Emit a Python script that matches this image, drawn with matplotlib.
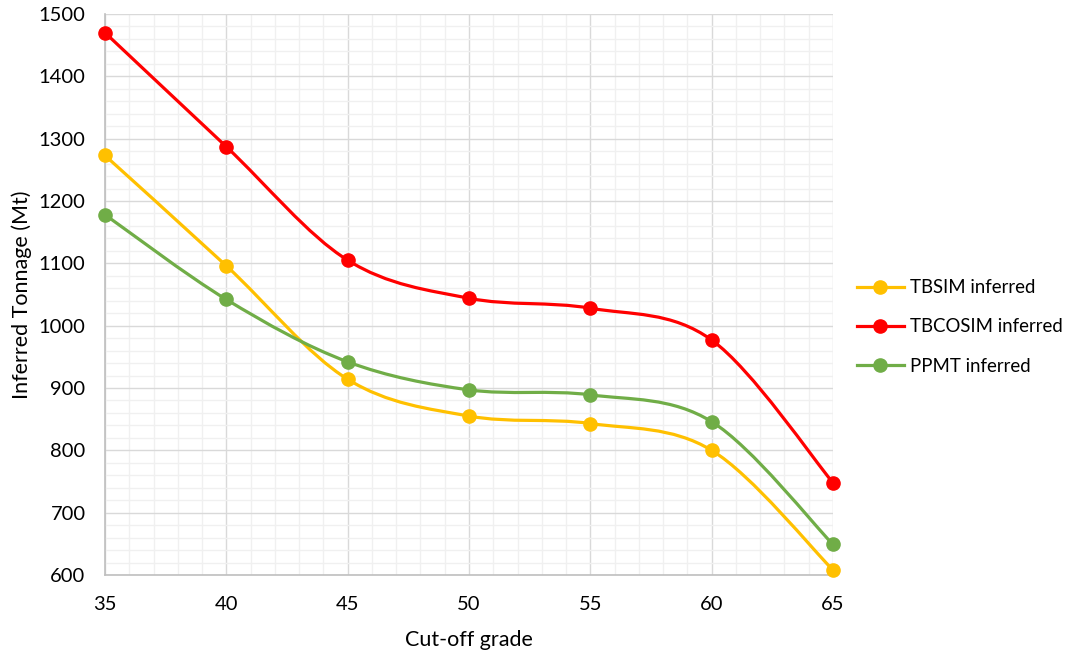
import numpy as np
import matplotlib
matplotlib.use("Agg")
import matplotlib.pyplot as plt
from matplotlib.path import Path
from matplotlib.patches import PathPatch
from matplotlib.lines import Line2D
from matplotlib.ticker import MultipleLocator

plt.rcParams['font.family'] = ['Lato', 'DejaVu Sans']

cutoff = [35, 40, 45, 50, 55, 60, 65]
tbsim = [1273, 1096, 914, 855, 843, 800, 608]
tbcosim = [1470, 1287, 1105, 1044, 1028, 977, 748]
ppmt = [1178, 1042, 942, 897, 889, 846, 649]
series_names = ["TBSIM inferred", "TBCOSIM inferred", "PPMT inferred"]
colors = ["#FFC000", "#FF0000", "#70AD47"]

fig = plt.figure(figsize=(10.7, 6.5), dpi=100)
ax = fig.add_axes([105/1070, 1-575/650, (833-105)/1070, (575-14)/650])


def smooth_path(x, y):
    pts = np.column_stack([x, y]).astype(float)
    n = len(pts)
    verts = [pts[0]]
    codes = [Path.MOVETO]
    for i in range(n - 1):
        p0 = pts[i - 1] if i > 0 else pts[i]
        p1 = pts[i]
        p2 = pts[i + 1]
        p3 = pts[i + 2] if i + 2 < n else pts[i + 1]
        c1 = p1 + (p2 - p0) / 6.0
        c2 = p2 - (p3 - p1) / 6.0
        verts += [c1, c2, p2]
        codes += [Path.CURVE4] * 3
    return Path(verts, codes)


for ys, c in zip([tbsim, tbcosim, ppmt], colors):
    patch = PathPatch(smooth_path(cutoff, ys), facecolor='none', edgecolor=c,
                      lw=2.3, capstyle='round', zorder=3, clip_on=False)
    ax.add_patch(patch)
    ax.plot(cutoff, ys, linestyle='none', marker='o', ms=9.5, color=c,
            zorder=4, clip_on=False)

ax.set_xlim(35, 65)
ax.set_ylim(600, 1500)
ax.xaxis.set_major_locator(MultipleLocator(5))
ax.xaxis.set_minor_locator(MultipleLocator(1))
ax.yaxis.set_major_locator(MultipleLocator(100))
ax.yaxis.set_minor_locator(MultipleLocator(20))
ax.grid(which='major', color='#D9D9D9', lw=1.0, zorder=1)
ax.grid(which='minor', color='#F0F0F0', lw=1.0, zorder=0)
ax.set_axisbelow(True)
for s in ['top', 'right']:
    ax.spines[s].set_visible(False)
for s in ['left', 'bottom']:
    ax.spines[s].set_color('#BFBFBF')
    ax.spines[s].set_linewidth(1.2)
ax.tick_params(which='both', length=0)
ax.tick_params(axis='y', pad=14, labelsize=14.5, colors='#000000')
ax.tick_params(axis='x', pad=15, labelsize=14.5, colors='#000000')

ax.set_xlabel("Cut-off grade", fontsize=15.5, labelpad=12)
ax.set_ylabel("Inferred Tonnage (Mt)", fontsize=15.5, labelpad=5)

handles = [Line2D([0], [0], color=c, lw=2.3, marker='o', ms=9.5) for c in colors]
fig.legend(handles, series_names, loc='center left',
           bbox_to_anchor=(857/1070, 1-327/650), frameon=False, borderpad=0,
           borderaxespad=0,
           fontsize=13.4, labelspacing=1.2, handlelength=2.5, handletextpad=0.35)

fig.savefig("out.png", dpi=100)
